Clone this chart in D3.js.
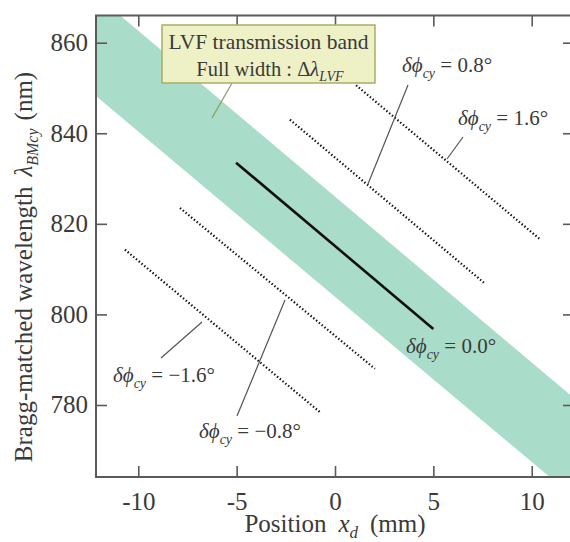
<!DOCTYPE html>
<html><head><meta charset="utf-8">
<script src="https://cdn.jsdelivr.net/npm/d3@7"></script>
<style>body{margin:0;background:#fff}svg{display:block}text{font-family:"Liberation Serif","Times New Roman",serif;fill:#3a3a3a}</style>
</head><body><svg id="c" width="570" height="542"></svg>
<script>
// ---- data ----
const xTicks = [-10, -5, 0, 5, 10];
const yTicks = [780, 800, 820, 840, 860];
const xDomain = [-12.15, 12.15];
const yDomain = [764.1, 866.0];
// LVF transmission band edges (read at the x-domain ends)
const bandX = [-12.15, 12.15];
const bandUpper = [870.5, 781.5];
const bandLower = [848.2, 759.6];
// lines for each δφcy
const phiLabels = ["−1.6°", "−0.8°", "0.0°", "0.8°", "1.6°"];
const lineStartX = [-10.68, -7.88, -5.03, -2.29, 1.07];
const lineStartY = [814.3, 823.5, 833.5, 843.0, 850.6];
const lineEndX = [-0.76, 2.03, 5.0, 7.57, 10.42];
const lineEndY = [778.4, 788.0, 796.8, 807.0, 816.6];

(function () {
const svg = d3.select("#c");
const L = 96, R = 574, T = 15.5, B = 477;
const x = d3.scaleLinear().domain(xDomain).range([L, R]);
const y = d3.scaleLinear().domain(yDomain).range([B, T]);

svg.append("clipPath").attr("id", "clip").append("rect")
  .attr("x", L).attr("y", T).attr("width", R - L).attr("height", B - T);
const g = svg.append("g").attr("clip-path", "url(#clip)");

// band
const bandData = bandX.map((v, i) => ({x: v, u: bandUpper[i], l: bandLower[i]}));
g.append("path").datum(bandData)
  .attr("d", d3.area().x(d => x(d.x)).y0(d => y(d.l)).y1(d => y(d.u)))
  .attr("fill", "#a9dcc9");

// lines
const lines = phiLabels.map((p, i) => ({p, pts: [[lineStartX[i], lineStartY[i]], [lineEndX[i], lineEndY[i]]]}));
const lineGen = d3.line().x(d => x(d[0])).y(d => y(d[1]));
g.selectAll("path.ln").data(lines).join("path").attr("class", "ln")
  .attr("d", d => lineGen(d.pts))
  .attr("fill", "none")
  .attr("stroke", "#111")
  .attr("stroke-width", d => d.p === "0.0°" ? 2.6 : 2.2)
  .attr("stroke-dasharray", d => d.p === "0.0°" ? null : "1.4,2.2");

// axes (frame with inward ticks)
const axCol = "#5a5a5a";
function styleAxis(sel) {
  sel.selectAll(".domain").remove();
  sel.selectAll(".tick line").attr("stroke", axCol).attr("stroke-width", 1.6);
}
const axB = svg.append("g").attr("transform", `translate(0,${B})`)
  .call(d3.axisBottom(x).tickValues(xTicks).tickSize(-11).tickPadding(15).tickFormat(d => d < 0 ? "-" + Math.abs(d) : d));
styleAxis(axB);
axB.selectAll(".tick text").attr("font-size", 25).attr("fill", "#3a3a3a").attr("font-family", "Liberation Serif");
const axT = svg.append("g").attr("transform", `translate(0,${T})`)
  .call(d3.axisTop(x).tickValues(xTicks).tickSize(-11).tickFormat(""));
styleAxis(axT);
const axL = svg.append("g").attr("transform", `translate(${L},0)`)
  .call(d3.axisLeft(y).tickValues(yTicks).tickSize(-11).tickPadding(8));
styleAxis(axL);
axL.selectAll(".tick text").attr("font-size", 25).attr("fill", "#3a3a3a").attr("font-family", "Liberation Serif");
const axR = svg.append("g").attr("transform", `translate(${R},0)`)
  .call(d3.axisRight(y).tickValues(yTicks).tickSize(-11).tickFormat(""));
styleAxis(axR);
svg.append("rect").attr("x", L).attr("y", T).attr("width", R - L).attr("height", B - T)
  .attr("fill", "none").attr("stroke", axCol).attr("stroke-width", 2);

// axis titles
const xt = svg.append("text").attr("x", 335).attr("y", 532).attr("text-anchor", "middle").attr("font-size", 25);
xt.append("tspan").text("Position");
xt.append("tspan").attr("dx", 12).attr("font-style", "italic").text("x");
xt.append("tspan").attr("font-style", "italic").attr("font-size", 17).attr("dy", 6).text("d");
xt.append("tspan").attr("dx", 12).attr("dy", -6).text("(mm)");

const yt = svg.append("text").attr("transform", "translate(32,267) rotate(-90)").attr("text-anchor", "middle").attr("font-size", 25);
yt.append("tspan").text("Bragg-matched wavelength");
yt.append("tspan").attr("dx", 10).attr("font-style", "italic").text("λ");
yt.append("tspan").attr("font-style", "italic").attr("font-size", 16).attr("dy", 6).text("BMcy");
yt.append("tspan").attr("dx", 8).attr("dy", -6).text("(nm)");

// LVF label box
const leaderCol = "#555";
svg.append("line").attr("x1", 232).attr("y1", 83).attr("x2", 212).attr("y2", 118)
  .attr("stroke", "#8a9a60").attr("stroke-width", 1.2);
svg.append("rect").attr("x", 162).attr("y", 25).attr("width", 213).attr("height", 58)
  .attr("fill", "#eef0c6").attr("stroke", "#a9ad62").attr("stroke-width", 1.5);
svg.append("text").attr("x", 268.5).attr("y", 49).attr("text-anchor", "middle").attr("font-size", 21.5)
  .text("LVF transmission band");
const l2 = svg.append("text").attr("x", 270).attr("y", 76).attr("text-anchor", "middle").attr("font-size", 20.5);
l2.append("tspan").text("Full width : Δ");
l2.append("tspan").attr("font-style", "italic").text("λ");
l2.append("tspan").attr("font-style", "italic").attr("font-size", 14).attr("dy", 5).text("LVF");

// δφ annotations
const ann = [
  {p: "0.8°", tx: 402, ty: 72, lx1: 408, ly1: 85, lx2: 368, ly2: 184},
  {p: "1.6°", tx: 458, ty: 125, lx1: 463, ly1: 137, lx2: 447, ly2: 159},
  {p: "0.0°", tx: 406, ty: 353},
  {p: "−1.6°", tx: 113, ty: 382, lx1: 161, ly1: 358, lx2: 202, ly2: 322},
  {p: "−0.8°", tx: 199, ty: 438, lx1: 237, ly1: 416, lx2: 285, ly2: 300}
];
ann.filter(a => a.lx1 !== undefined).forEach(a => {
  svg.append("line").attr("x1", a.lx1).attr("y1", a.ly1).attr("x2", a.lx2).attr("y2", a.ly2)
    .attr("stroke", leaderCol).attr("stroke-width", 1.2);
});
ann.forEach(a => {
  const t = svg.append("text").attr("x", a.tx).attr("y", a.ty).attr("font-size", 21);
  t.append("tspan").attr("font-style", "italic").text("δϕ");
  t.append("tspan").attr("font-style", "italic").attr("font-size", 14).attr("dy", 6).text("cy");
  t.append("tspan").attr("dy", -6).text(" = " + a.p);
});
})();
</script></body></html>
